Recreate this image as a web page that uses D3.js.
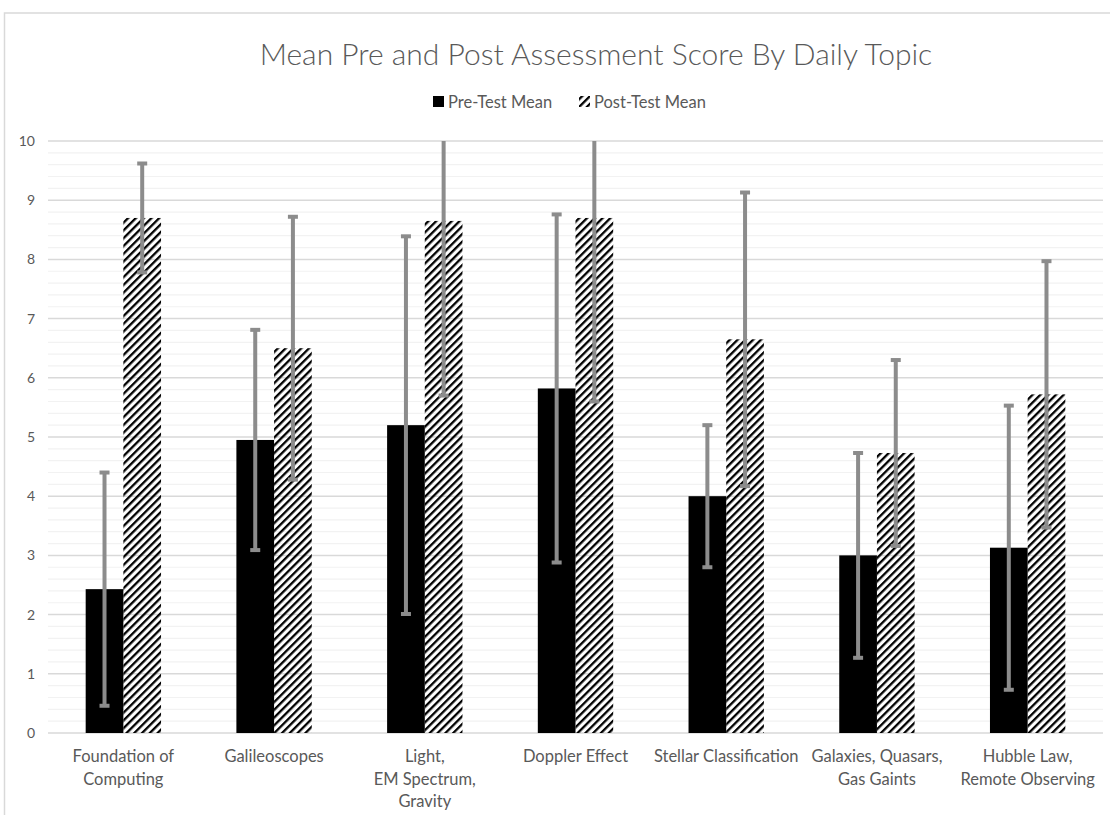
<!DOCTYPE html>
<html>
<head>
<meta charset="utf-8">
<script src="https://cdn.jsdelivr.net/npm/d3@7"></script>
<style>
  body { margin: 0; background: #fff; }
  text { font-family: Lato, "Open Sans", sans-serif; fill: #595959; }
</style>
</head>
<body>
<svg id="chart"></svg>
<script>
// Data
var topics = [
    ['Foundation of', 'Computing'],
    ['Galileoscopes'],
    ['Light,', 'EM Spectrum,', 'Gravity'],
    ['Doppler Effect'],
    ['Stellar Classification'],
    ['Galaxies, Quasars,', 'Gas Gaints'],
    ['Hubble Law,', 'Remote Observing']
];
var preMean  = [2.43, 4.95, 5.2, 5.82, 4.0, 3.0, 3.13];
var postMean = [8.7, 6.5, 8.65, 8.7, 6.65, 4.73, 5.72];
var preErr   = [1.97, 1.86, 3.19, 2.94, 1.2, 1.73, 2.4];
var postErr  = [0.92, 2.22, 2.95, 3.1, 2.48, 1.57, 2.25];
var yTicks   = [0, 1, 2, 3, 4, 5, 6, 7, 8, 9, 10];

var svgWidth = 1110;
var svgHeight = 815;

var svg = d3.select('#chart')
    .attr('width', svgWidth)
    .attr('height', svgHeight);

// Chart border (runs off the right and bottom edge)
svg.append('rect')
    .attr('x', 4.5)
    .attr('y', 13)
    .attr('width', 1200)
    .attr('height', 900)
    .attr('fill', 'none')
    .attr('stroke', '#d9d9d9')
    .attr('stroke-width', 1.5);

// Hatch pattern
var defs = svg.append('defs');
defs.append('pattern')
    .attr('id', 'hatch')
    .attr('patternUnits', 'userSpaceOnUse')
    .attr('width', 5.5)
    .attr('height', 5.5)
    .attr('patternTransform', 'rotate(45)')
    .append('rect')
    .attr('x', 0)
    .attr('y', 0)
    .attr('width', 2.3)
    .attr('height', 5.5)
    .attr('fill', '#000');

var margin = { top: 141, left: 48, right: 7, bottom: 82 };
var chartWidth = svgWidth - margin.left - margin.right;
var chartHeight = svgHeight - margin.top - margin.bottom;

var chartGroup = svg.append('g')
    .attr('transform', `translate(${margin.left}, ${margin.top})`);

var xBand = d3.scaleBand()
    .domain(d3.range(topics.length))
    .range([0, chartWidth])
    .paddingInner(0)
    .paddingOuter(0);

var barW = xBand.bandwidth() / 4;

var yLinearScale = d3.scaleLinear()
    .domain([0, 10])
    .range([chartHeight, 0]);

// Minor gridlines
chartGroup.append('g')
    .selectAll('line')
    .data(d3.range(0, 10.01, 0.2).filter((v) => Math.abs(v - Math.round(v)) > 0.01))
    .enter()
    .append('line')
    .attr('x1', 0)
    .attr('x2', chartWidth)
    .attr('y1', (d) => yLinearScale(d))
    .attr('y2', (d) => yLinearScale(d))
    .attr('stroke', '#f2f2f2')
    .attr('stroke-width', 1.2);

// Major gridlines
chartGroup.append('g')
    .selectAll('line')
    .data(yTicks)
    .enter()
    .append('line')
    .attr('x1', 0)
    .attr('x2', chartWidth)
    .attr('y1', (d) => yLinearScale(d))
    .attr('y2', (d) => yLinearScale(d))
    .attr('stroke', '#d9d9d9')
    .attr('stroke-width', 1.5);

// Y axis labels
var leftAxis = d3.axisLeft(yLinearScale)
    .tickValues(yTicks)
    .tickSize(0)
    .tickPadding(13);

var yAxis = chartGroup.append('g').call(leftAxis);
yAxis.select('.domain').remove();
yAxis.selectAll('text')
    .style('font-size', '14px')
    .attr('fill', '#595959');

// Bars
var preBars = chartGroup.selectAll('.pre')
    .data(preMean)
    .enter()
    .append('rect')
    .attr('x', (d, i) => xBand(i) + xBand.bandwidth() / 2 - barW)
    .attr('y', (d) => yLinearScale(d))
    .attr('width', barW)
    .attr('height', (d) => chartHeight - yLinearScale(d))
    .attr('fill', '#000');

var postBars = chartGroup.selectAll('.post')
    .data(postMean)
    .enter()
    .append('rect')
    .attr('x', (d, i) => xBand(i) + xBand.bandwidth() / 2)
    .attr('y', (d) => yLinearScale(d))
    .attr('width', barW)
    .attr('height', (d) => chartHeight - yLinearScale(d))
    .attr('fill', 'url(#hatch)');

// Error bars
function drawErrors(means, errs, offset) {
    var g = chartGroup.append('g');
    means.forEach(function(m, i) {
        var cx = xBand(i) + xBand.bandwidth() / 2 + offset;
        var hi = m + errs[i];
        var lo = m - errs[i];
        var yHi = yLinearScale(Math.min(hi, 10));
        var yLo = yLinearScale(lo);
        g.append('line')
            .attr('x1', cx).attr('x2', cx)
            .attr('y1', yHi).attr('y2', yLo)
            .attr('stroke', '#8c8c8c')
            .attr('stroke-width', 4);
        var caps = [yLo];
        if (hi <= 10) caps.push(yHi);
        caps.forEach(function(cy) {
            g.append('line')
                .attr('x1', cx - 5).attr('x2', cx + 5)
                .attr('y1', cy).attr('y2', cy)
                .attr('stroke', '#8c8c8c')
                .attr('stroke-width', 4);
        });
    });
}
drawErrors(preMean, preErr, -barW / 2);
drawErrors(postMean, postErr, barW / 2);

// X labels
var xLabels = chartGroup.append('g')
    .attr('transform', `translate(0, ${chartHeight})`);
topics.forEach(function(lines, i) {
    var t = xLabels.append('text')
        .attr('x', xBand(i) + xBand.bandwidth() / 2)
        .attr('y', 29)
        .attr('text-anchor', 'middle')
        .style('font-size', '16.5px');
    lines.forEach(function(line, j) {
        t.append('tspan')
            .attr('x', xBand(i) + xBand.bandwidth() / 2)
            .attr('dy', j === 0 ? 0 : 22.5)
            .text(line);
    });
});

// Title
svg.append('text')
    .attr('x', 596)
    .attr('y', 65)
    .attr('text-anchor', 'middle')
    .style('font-size', '30px')
    .style('font-weight', 300)
    .text('Mean Pre and Post Assessment Score By Daily Topic');

// Legend
var legend = svg.append('g');
legend.append('rect')
    .attr('x', 433).attr('y', 96)
    .attr('width', 11).attr('height', 11)
    .attr('fill', '#000');
legend.append('text')
    .attr('x', 448).attr('y', 108)
    .style('font-size', '16.5px')
    .text('Pre-Test Mean');
legend.append('rect')
    .attr('x', 579).attr('y', 96)
    .attr('width', 11).attr('height', 11)
    .attr('fill', 'url(#hatch)');
legend.append('text')
    .attr('x', 594).attr('y', 108)
    .style('font-size', '16.5px')
    .text('Post-Test Mean');
</script>
</body>
</html>
